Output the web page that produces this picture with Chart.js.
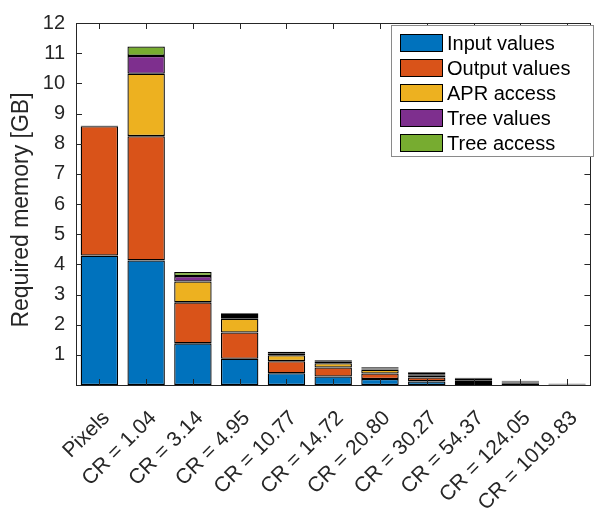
<!DOCTYPE html>
<html>
<head>
    <title>Required memory</title>
    <style>
    body {
        margin: 0;
        background: #FFFFFF;
        overflow: hidden;
    }
    #memory-chart {
        display: block;
    }
</style>
    <script src="https://cdn.jsdelivr.net/npm/chart.js"></script>
</head>
<body>
    <canvas id="memory-chart" width="606" height="515"></canvas>
    <script>
        // values, in GB
        const categories = ['Pixels', 'CR = 1.04', 'CR = 3.14', 'CR = 4.95', 'CR = 10.77', 'CR = 14.72',
            'CR = 20.80', 'CR = 30.27', 'CR = 54.37', 'CR = 124.05', 'CR = 1019.83'];
        const inputValues  = [4.29, 4.13, 1.38, 0.87, 0.39, 0.28, 0.20, 0.12, 0.07, 0.04, 0.01];
        const outputValues = [4.29, 4.12, 1.36, 0.87, 0.40, 0.30, 0.18, 0.13, 0.09, 0.04, 0.01];
        const aprAccess    = [0, 2.07, 0.69, 0.46, 0.20, 0.14, 0.13, 0.06, 0.04, 0.02, 0.01];
        const treeValues   = [0.01, 0.59, 0.18, 0.09, 0.05, 0.05, 0.04, 0.05, 0.02, 0.02, 0.01];
        const treeAccess   = [0.01, 0.31, 0.14, 0.09, 0.06, 0.05, 0.04, 0.06, 0.02, 0.02, 0.01];
        const yTicks = [0, 1, 2, 3, 4, 5, 6, 7, 8, 9, 10, 11, 12];
        const yTitle = 'Required memory [GB]';

        const axisColor = '#262626';
        const fontFamily = "'Liberation Sans', Arial, sans-serif";

        function makeSet(label, values, color) {
            return {
                label: label,
                data: values,
                backgroundColor: color,
                borderColor: '#000000',
                borderWidth: 1.3,
                borderSkipped: false,
                barPercentage: 0.8,
                categoryPercentage: 1.0
            };
        }

        // box around the plot, ticks pointing inwards, legend in the top right corner
        const matlabLook = {
            id: 'matlabLook',
            afterDatasetsDraw(chart) {
                const ctx = chart.ctx;
                const area = chart.chartArea;
                const x = chart.scales.x;
                const y = chart.scales.y;
                const len = 6;
                ctx.save();
                ctx.strokeStyle = axisColor;
                ctx.lineWidth = 1;
                ctx.beginPath();
                x.ticks.forEach((t, i) => {
                    const px = Math.round(x.getPixelForTick(i)) + 0.5;
                    ctx.moveTo(px, area.bottom);
                    ctx.lineTo(px, area.bottom - len);
                    ctx.moveTo(px, area.top);
                    ctx.lineTo(px, area.top + len);
                });
                y.ticks.forEach((t, i) => {
                    const py = Math.round(y.getPixelForTick(i)) + 0.5;
                    ctx.moveTo(area.left, py);
                    ctx.lineTo(area.left + len, py);
                    ctx.moveTo(area.right, py);
                    ctx.lineTo(area.right - len, py);
                });
                ctx.stroke();
                ctx.strokeRect(Math.round(area.left) + 0.5, Math.round(area.top) + 0.5,
                    Math.round(area.right - area.left), Math.round(area.bottom - area.top));

                // y axis title, sits a little below the middle of the axis
                ctx.save();
                ctx.translate(22, 210);
                ctx.rotate(-Math.PI / 2);
                ctx.font = '23px ' + fontFamily;
                ctx.fillStyle = axisColor;
                ctx.textAlign = 'center';
                ctx.textBaseline = 'middle';
                ctx.fillText(yTitle, 0, 0);
                ctx.restore();

                // legend
                const lx = 391, ly = 25, lw = 202, lh = 131;
                ctx.fillStyle = '#ffffff';
                ctx.fillRect(lx, ly, lw, lh);
                ctx.strokeStyle = '#8a8a8a';
                ctx.strokeRect(lx + 0.5, ly + 0.5, lw, lh);
                ctx.font = '20px ' + fontFamily;
                ctx.textBaseline = 'middle';
                chart.data.datasets.forEach((ds, i) => {
                    const cy = 43 + i * 25;
                    ctx.fillStyle = ds.backgroundColor;
                    ctx.fillRect(400, cy - 9, 43, 18);
                    ctx.strokeStyle = '#000000';
                    ctx.strokeRect(400.5, cy - 8.5, 42, 17);
                    ctx.fillStyle = '#000000';
                    ctx.fillText(ds.label, 447, cy + 1);
                });
                ctx.restore();
            }
        };

        const ctx = document.getElementById('memory-chart').getContext('2d');
        const chart = new Chart(ctx, {
            type: 'bar',
            data: {
                labels: categories,
                datasets: [
                    makeSet('Input values', inputValues, '#0072BD'),
                    makeSet('Output values', outputValues, '#D95319'),
                    makeSet('APR access', aprAccess, '#EDB120'),
                    makeSet('Tree values', treeValues, '#7E2F8E'),
                    makeSet('Tree access', treeAccess, '#77AC30')
                ]
            },
            options: {
                responsive: false,
                animation: false,
                layout: {
                    padding: { top: 17, right: 3, left: 0, bottom: 0 }
                },
                plugins: {
                    legend: { display: false },
                    tooltip: { enabled: false }
                },
                scales: {
                    x: {
                        stacked: true,
                        offset: true,
                        grid: { display: false, drawTicks: false },
                        border: { display: false },
                        ticks: {
                            color: axisColor,
                            font: { family: fontFamily, size: 21 },
                            maxRotation: 45,
                            minRotation: 45,
                            autoSkip: false,
                            padding: 21,
                            labelOffset: 7
                        },
                        afterFit(scale) { scale.height = 130; }
                    },
                    y: {
                        stacked: true,
                        min: 0,
                        max: 12,
                        afterBuildTicks(scale) {
                            scale.ticks = yTicks.map(v => ({ value: v }));
                        },
                        grid: { display: false, drawTicks: false },
                        border: { display: false },
                        ticks: {
                            color: axisColor,
                            font: { family: fontFamily, size: 20 },
                            padding: 11,
                            callback: v => v === 0 ? '' : v
                        },
                        afterFit(scale) { scale.width = 76; }
                    }
                }
            },
            plugins: [matlabLook]
        });
    </script>
</body>
</html>
